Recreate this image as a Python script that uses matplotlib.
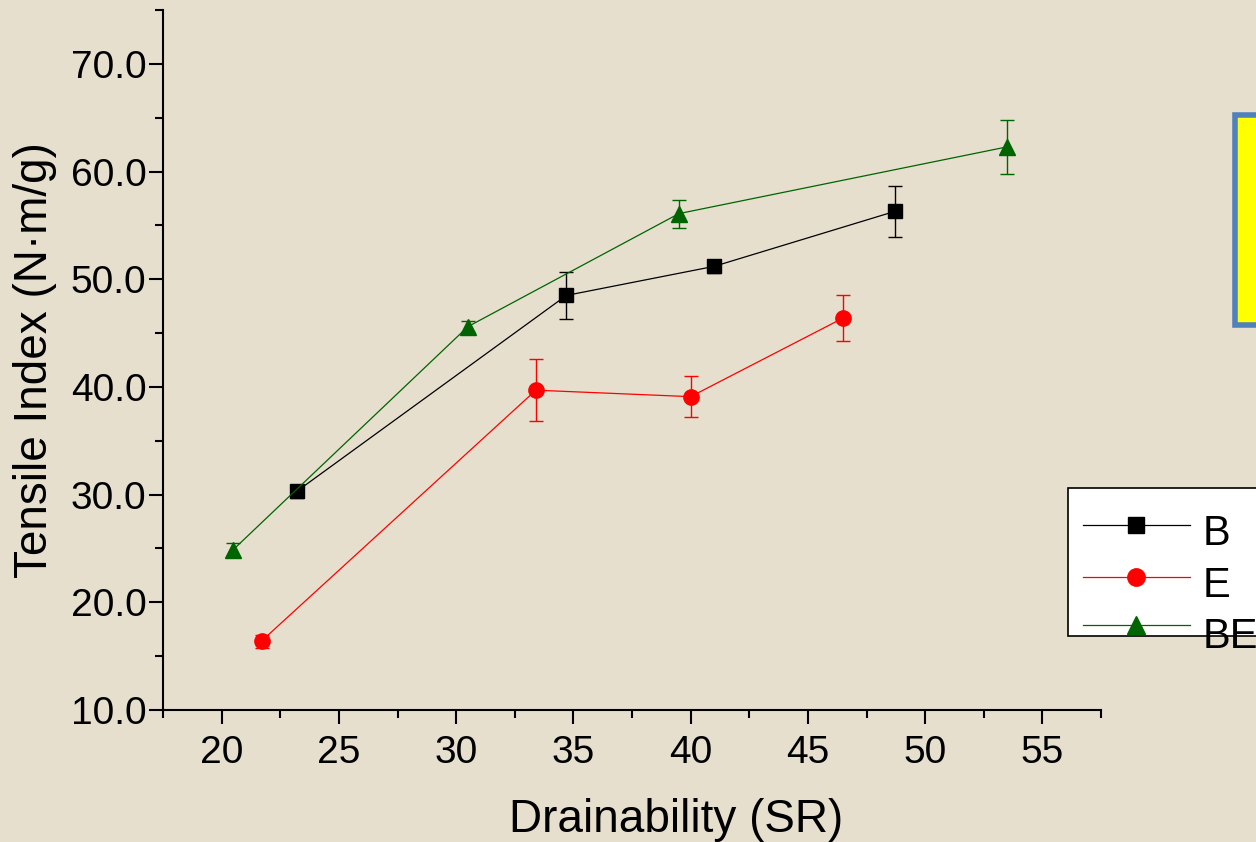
import matplotlib
matplotlib.use("Agg")
import matplotlib.pyplot as plt
from matplotlib.patches import Rectangle
from matplotlib.lines import Line2D

plt.rcParams['font.family'] = ['Liberation Sans', 'DejaVu Sans']

# data
b_x = [23.2, 34.7, 41.0, 48.7]
b_y = [30.3, 48.5, 51.2, 56.3]
b_err = [0.6, 2.2, 0.6, 2.4]

e_x = [21.7, 33.4, 40.0, 46.5]
e_y = [16.4, 39.7, 39.1, 46.4]
e_err = [0.6, 2.9, 1.9, 2.1]

be_x = [20.5, 30.5, 39.5, 53.5]
be_y = [24.9, 45.6, 56.1, 62.3]
be_err = [0.6, 0.5, 1.3, 2.5]

bg = '#e6dfce'
W, H = 1256, 842

fig = plt.figure(figsize=(12.56, 8.42), dpi=100, facecolor=bg)
ax = fig.add_axes([0.1298, 0.1568, 0.7468, 0.8312])
ax.set_facecolor(bg)


def fx(x):
    return x / W


def fy(y):
    return 1 - y / H


series = [
    (b_x, b_y, b_err, 'black', 's', 9.5, 'B'),
    (e_x, e_y, e_err, 'red', 'o', 11, 'E'),
    (be_x, be_y, be_err, '#006400', '^', 12, 'BE'),
]
for xs, ys, errs, c, m, ms, lab in series:
    ax.errorbar(xs, ys, yerr=errs, color=c, marker=m, markersize=ms,
                linewidth=0.9, elinewidth=1.0, capsize=5, capthick=1.0)

ax.set_xlim(17.5, 57.5)
ax.set_ylim(10, 75)
ax.set_xticks([20, 25, 30, 35, 40, 45, 50, 55])
ax.set_xticks([17.5, 22.5, 27.5, 32.5, 37.5, 42.5, 47.5, 52.5, 57.5], minor=True)
ax.set_yticks([10, 20, 30, 40, 50, 60, 70])
ax.set_yticklabels(['10.0', '20.0', '30.0', '40.0', '50.0', '60.0', '70.0'])
ax.set_yticks([15, 25, 35, 45, 55, 65, 75], minor=True)

ax.spines['top'].set_visible(False)
ax.spines['right'].set_visible(False)
ax.spines['left'].set_linewidth(1.5)
ax.spines['bottom'].set_linewidth(1.5)
ax.tick_params(which='major', direction='out', length=10, width=1.5, labelsize=28, pad=2)
ax.tick_params(which='minor', direction='out', length=5.5, width=1.5)
ax.tick_params(axis='x', which='major', pad=8)

ax.set_xlabel('Drainability (SR)', fontsize=33)
ax.xaxis.set_label_coords(0.547, -0.126)
ax.set_ylabel('Tensile Index (N·m/g)', fontsize=33, labelpad=10)

# legend box drawn like the original (text spills past the frame, cut at the edge)
fig.add_artist(Rectangle((fx(1068), fy(636)), fx(W - 1068 + 20), 148 / H,
                         transform=fig.transFigure, facecolor='white',
                         edgecolor='black', linewidth=1.2, zorder=4))
rows = [(525, 545), (577, 597), (625, 648)]
for (xs, ys, errs, c, m, ms, lab), (ym, yb) in zip(series, rows):
    fig.add_artist(Line2D([fx(1083), fx(1190)], [fy(ym), fy(ym)], color=c,
                          linewidth=0.9, transform=fig.transFigure, zorder=5))
    fig.add_artist(Line2D([fx(1136)], [fy(ym)], color=c, marker=m,
                          markersize=ms + 1.5, linestyle='none',
                          transform=fig.transFigure, zorder=6))
    fig.text(fx(1203), fy(yb), lab, fontsize=30, va='baseline', ha='left', zorder=6)

# yellow box at the right edge
fig.add_artist(Rectangle((0.983, 0.614), 0.05, 0.25, transform=fig.transFigure,
                         facecolor='yellow', edgecolor='#4f81bd', linewidth=4,
                         zorder=5))

fig.savefig('out.png', dpi=100, facecolor=bg)
